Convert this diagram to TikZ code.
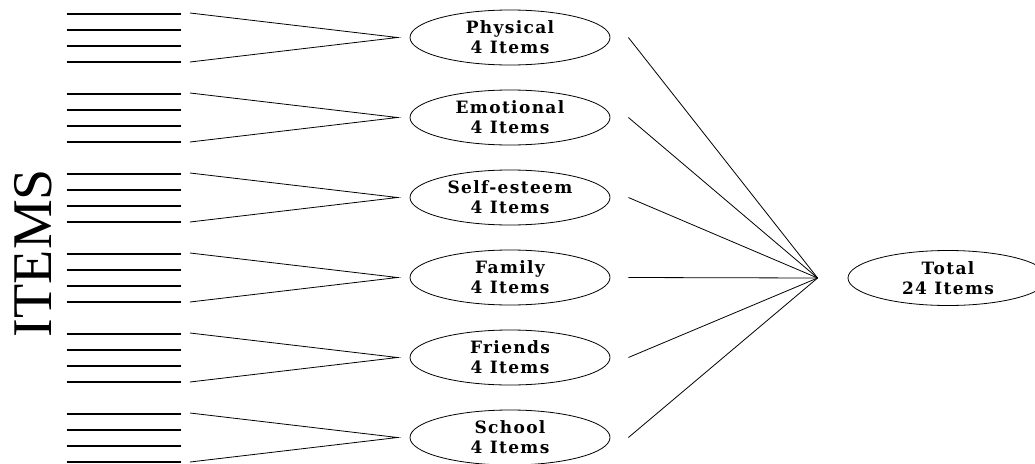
\documentclass[tikz,border=0pt]{standalone}
\usepackage{fontspec}
\setmainfont{Liberation Serif}
\newfontfamily\labelfont[LetterSpace=8]{DejaVu Serif}
\usetikzlibrary{shapes.geometric,calc}
\tikzset{
  subscale/.style={ellipse, draw, line width=0.8pt, minimum width=200pt, minimum height=55pt, inner sep=0pt, align=center, font=\labelfont\bfseries\fontsize{17}{20}\selectfont},
  itemline/.style={line width=2.2pt},
  connect/.style={line width=0.8pt}
}

\begin{document}
\begin{tikzpicture}[x=1pt,y=-1pt]
	  \useasboundingbox (0,0) rectangle (1035,463);

	  % Side label
	  \node[rotate=90, font=\fontsize{56}{56}\selectfont] (items) at (33,253) {ITEMS};

	  % Total scale and the point where all subscales meet
	  \node[subscale] (total) at (948,278) {Total\\24 Items};
	  \coordinate (hub) at ([xshift=-30pt]total.west);

	  % Subscales
	  \foreach \n/\name [evaluate = \n as \y using (37.5+80*\n)] in {0/Physical, 1/Emotional, 2/Self-esteem, 3/Family, 4/Friends, 5/School} {
		\node[subscale] (s\n) at (510,\y) {\name\\4 Items};

		% four item lines per subscale
		\foreach \t in {0,...,3} {
		  \coordinate (i\n_\t) at (67,\y-23.5+16*\t);
		  \draw[itemline] (i\n_\t) -- ++(114,0);
		}

		\coordinate (a\n) at (190,\y-24.5);
		\coordinate (b\n) at (190,\y+24.5);
		\coordinate (j\n) at ([xshift=-12pt]s\n.west);
		\draw[connect] (a\n) -- (j\n) -- (b\n);

		\draw[connect] ([xshift=18pt]s\n.east) -- (hub);
	  }

	\end{tikzpicture}
\end{document}
